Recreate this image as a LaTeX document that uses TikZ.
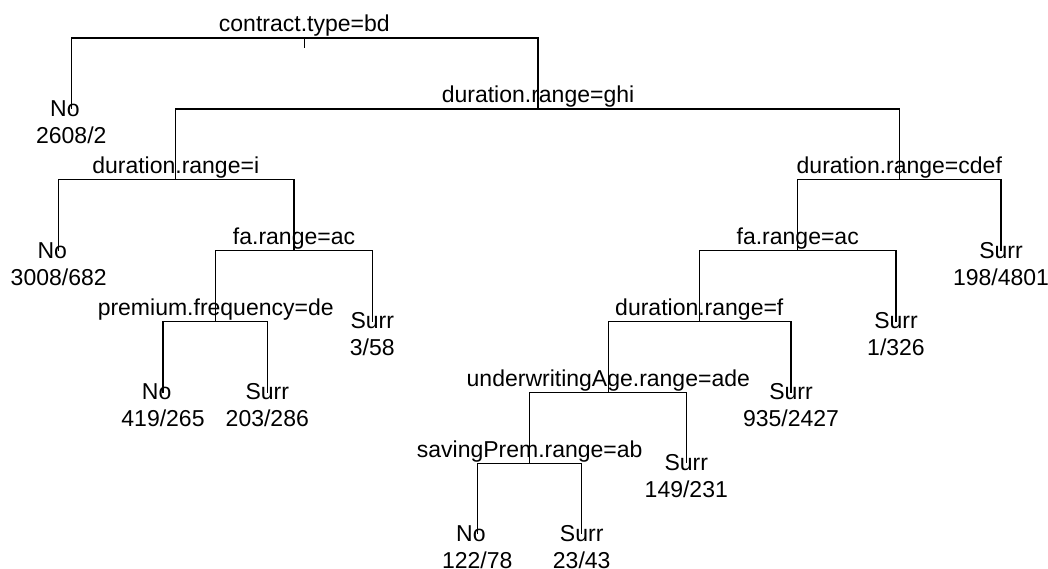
\documentclass[tikz,border=0pt]{standalone}
\usepackage{fontspec}
\setmainfont{Liberation Sans}
\begin{document}
\begin{tikzpicture}[x=1pt,y=-1pt,
  edge/.style={draw=black, line width=1.3pt},
  lab/.style={inner sep=0pt, anchor=base, font=\fontsize{23}{27.5}\selectfont},
  splitlab/.style={lab, yshift=6pt},
  classlab/.style={lab, yshift=-7.3pt},
  nolab/.style={classlab, xshift=-6.4pt},
  countlab/.style={lab, yshift=-34.3pt}]
\useasboundingbox (0,0) rectangle (1048,569);
% levels
\def\LA{38}\def\LB{108.9}\def\LC{179.8}\def\LD{250.7}\def\LE{321.6}\def\LF{392.5}\def\LG{463.4}\def\LH{534.3}
% split nodes
\coordinate (root) at (304.3,\LA);
\coordinate (tick) at (304.3,48);
\coordinate (ghi) at (538,\LB);
\coordinate (dri) at (175.7,\LC);
\coordinate (cdef) at (899.3,\LC);
\coordinate (faL) at (294,\LD);
\coordinate (faR) at (797.7,\LD);
\coordinate (prem) at (215.7,\LE);
\coordinate (durf) at (699.3,\LE);
\coordinate (uw) at (608.3,\LF);
\coordinate (sp) at (529.7,\LG);
% leaves
\coordinate (lA) at (71.3,\LB);
\coordinate (lB) at (58.7,\LD);
\coordinate (lC) at (163,\LF);
\coordinate (lD) at (267.3,\LF);
\coordinate (lE) at (372.3,\LE);
\coordinate (lF) at (477.3,\LH);
\coordinate (lG) at (581.7,\LH);
\coordinate (lH) at (686.3,\LG);
\coordinate (lI) at (791,\LF);
\coordinate (lJ) at (896,\LE);
\coordinate (lK) at (1001,\LD);
% connectors
\draw[edge] (lA) |- (root) -| (ghi);
\draw[edge] (root) -- (tick);
\draw[edge] (dri) |- (ghi) -| (cdef);
\draw[edge] (lB) |- (dri) -| (faL);
\draw[edge] (prem) |- (faL) -| (lE);
\draw[edge] (lC) |- (prem) -| (lD);
\draw[edge] (faR) |- (cdef) -| (lK);
\draw[edge] (durf) |- (faR) -| (lJ);
\draw[edge] (uw) |- (durf) -| (lI);
\draw[edge] (sp) |- (uw) -| (lH);
\draw[edge] (lF) |- (sp) -| (lG);
% split labels
\node[splitlab] (troot) at (root) {contract.type=bd};
\node[splitlab] (tghi) at (ghi) {duration.range=ghi};
\node[splitlab] (tdri) at (dri) {duration.range=i};
\node[splitlab] (tcdef) at (cdef) {duration.range=cdef};
\node[splitlab] (tfaL) at (faL) {fa.range=ac};
\node[splitlab] (tfaR) at (faR) {fa.range=ac};
\node[splitlab] (tprem) at (prem) {premium.frequency=de};
\node[splitlab] (tdurf) at (durf) {duration.range=f};
\node[splitlab] (tuw) at (uw) {underwritingAge.range=ade};
\node[splitlab] (tsp) at (sp) {savingPrem.range=ab};
% leaf labels
\node[nolab] (cA) at (lA) {No};      \node[countlab] (nA) at (lA) {2608/2};
\node[nolab] (cB) at (lB) {No};      \node[countlab] (nB) at (lB) {3008/682};
\node[nolab] (cC) at (lC) {No};      \node[countlab] (nC) at (lC) {419/265};
\node[classlab] (cD) at (lD) {Surr}; \node[countlab] (nD) at (lD) {203/286};
\node[classlab] (cE) at (lE) {Surr}; \node[countlab] (nE) at (lE) {3/58};
\node[nolab] (cF) at (lF) {No};      \node[countlab] (nF) at (lF) {122/78};
\node[classlab] (cG) at (lG) {Surr}; \node[countlab] (nG) at (lG) {23/43};
\node[classlab] (cH) at (lH) {Surr}; \node[countlab] (nH) at (lH) {149/231};
\node[classlab] (cI) at (lI) {Surr}; \node[countlab] (nI) at (lI) {935/2427};
\node[classlab] (cJ) at (lJ) {Surr}; \node[countlab] (nJ) at (lJ) {1/326};
\node[classlab] (cK) at (lK) {Surr}; \node[countlab] (nK) at (lK) {198/4801};
\end{tikzpicture}
\end{document}
